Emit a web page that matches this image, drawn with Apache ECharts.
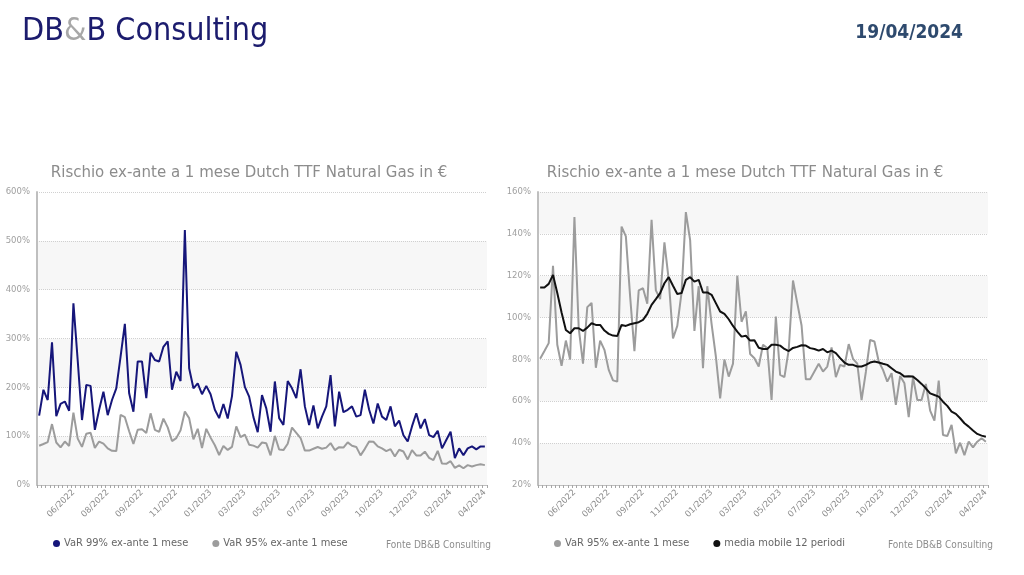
<!DOCTYPE html>
<html>
<head>
<meta charset="utf-8">
<script src="https://cdn.jsdelivr.net/npm/echarts@6/dist/echarts.min.js"></script>
<style>
html,body{margin:0;padding:0;background:#fff;}
#chart{width:1024px;height:575px;}
</style>
</head>
<body>
<div id="chart"></div>
<script>
// Weekly observation dates (categories)
const dates = [
"15/04/2022","22/04/2022","29/04/2022","06/05/2022","13/05/2022","20/05/2022","27/05/2022","03/06/2022","10/06/2022","17/06/2022",
"24/06/2022","01/07/2022","08/07/2022","15/07/2022","22/07/2022","29/07/2022","05/08/2022","12/08/2022","19/08/2022","26/08/2022",
"02/09/2022","09/09/2022","16/09/2022","23/09/2022","30/09/2022","07/10/2022","14/10/2022","21/10/2022","28/10/2022","04/11/2022",
"11/11/2022","18/11/2022","25/11/2022","02/12/2022","09/12/2022","16/12/2022","23/12/2022","30/12/2022","06/01/2023","13/01/2023",
"20/01/2023","27/01/2023","03/02/2023","10/02/2023","17/02/2023","24/02/2023","03/03/2023","10/03/2023","17/03/2023","24/03/2023",
"31/03/2023","07/04/2023","14/04/2023","21/04/2023","28/04/2023","05/05/2023","12/05/2023","19/05/2023","26/05/2023","02/06/2023",
"09/06/2023","16/06/2023","23/06/2023","30/06/2023","07/07/2023","14/07/2023","21/07/2023","28/07/2023","04/08/2023","11/08/2023",
"18/08/2023","25/08/2023","01/09/2023","08/09/2023","15/09/2023","22/09/2023","29/09/2023","06/10/2023","13/10/2023","20/10/2023",
"27/10/2023","03/11/2023","10/11/2023","17/11/2023","24/11/2023","01/12/2023","08/12/2023","15/12/2023","22/12/2023","29/12/2023",
"05/01/2024","12/01/2024","19/01/2024","26/01/2024","02/02/2024","09/02/2024","16/02/2024","23/02/2024","01/03/2024","08/03/2024",
"15/03/2024","22/03/2024","29/03/2024","05/04/2024","12/04/2024"
];

// VaR 99% ex-ante 1 mese (%)
const var99 = [
142,195,174,292,141,166,171,152,372,255,
133,205,203,113,154,191,143,174,198,263,
330,188,150,253,253,178,271,256,253,283,
294,195,232,213,522,239,198,208,186,203,
186,154,137,166,136,182,273,246,201,181,
139,108,184,157,109,212,137,123,213,198,
178,237,161,123,163,116,140,161,225,120,
191,149,154,161,140,143,195,154,126,167,
140,133,161,120,132,102,89,120,147,116,
135,102,98,111,75,92,109,55,75,61,
75,79,73,79,79
];

// VaR 95% ex-ante 1 mese (%)
const var95 = [
80.3,84,87.8,124.7,87,77,89,80,148,95,
78,105,107,76,89,84.6,75,70,69.4,143.5,
138.8,110,84,113,114,106.6,146.7,113,108.8,135.9,
118,90,96,112,150.4,137,93.6,115,75.8,115,
97,81.4,61.4,80,71.8,78,120,98,103,82.6,
80.6,76.6,87,85.4,60.6,100.5,72.6,71.5,84.6,117.7,
106.9,96.2,70.5,70.5,74.2,77.9,74.2,76.6,85.7,71.5,
77.4,76.6,87.3,80.3,78,60.6,74,89.3,88.6,79,
75,69.4,73.4,58.3,72.1,68.6,52.4,71.5,60.6,60.6,
68.3,55.5,50.8,69.9,43.9,43.4,48.7,35.1,40.2,34.3,
40.7,38,40.7,42.3,40.7
];

// media mobile 12 periodi (%)
const ma12 = [
114.4,114.4,116.1,120.4,111.7,102.4,94.1,92.5,94.9,94.9,
93.6,95.2,97.3,96.5,96.5,93.8,92.2,91.4,91.2,96.5,
96,96.8,97.3,97.8,98.9,101.8,106.1,108.8,111.7,116.4,
119.3,115.2,111.3,111.7,118,119.3,117.2,118,112,112,
110.9,106.9,102.9,101.8,99.2,96,93.3,90.9,91.3,89,
89.2,85.6,85,85,87,87,86.6,85,84,85.5,
86,86.8,86.6,85.4,85,84.2,85,83.4,84.2,83,
80.6,78.5,77.4,77.4,76.6,76.6,77.4,78.5,79,78.5,
77.9,77.4,75.8,74.2,73.4,71.8,72,71.8,70.2,68.3,
66.2,63.8,63,62.2,59.8,57.8,55.1,54,51.9,49.5,
47.9,46,44.4,43.6,43.1
];

const leftTicks = {min:0, max:600, interval:100};
const rightTicks = {min:20, max:160, interval:20};

const names = {
  v99: "VaR 99% ex-ante 1 mese",
  v95: "VaR 95% ex-ante 1 mese",
  ma: "media mobile 12 periodi"
};
const chartTitle = "Rischio ex-ante a 1 mese Dutch TTF Natural Gas in €";

const FONT = "'DejaVu Sans', Verdana, sans-serif";
const COND = "'DejaVu Sans Condensed', 'DejaVu Sans', sans-serif";
const NAVY = "#16167a";
const GREY = "#9c9c9c";
const BLACK = "#111111";

function xAxisCfg(gridIndex){
  return {
    type:'category', gridIndex, data:dates, boundaryGap:true,
    axisLine:{show:true, lineStyle:{color:'#bfbfbf', width:1}},
    axisTick:{show:true, interval:0, length:3, lineStyle:{color:'#a6a6a6'}},
    axisLabel:{
      interval:(i)=> i>0 && i%8===0,
      rotate:45, fontSize:8.5, color:'#8c8c8c', fontFamily:FONT, margin:6,
      formatter:(v)=> v.slice(3)
    },
    splitLine:{show:false}
  };
}
function yAxisCfg(gridIndex, t){
  return {
    type:'value', gridIndex, min:t.min, max:t.max, interval:t.interval,
    axisLine:{show:true, lineStyle:{color:'#bfbfbf', width:2}},
    axisTick:{show:false},
    axisLabel:{formatter:'{value}%', fontSize:8.5, color:'#a0a0a0', fontFamily:FONT, margin:7},
    splitLine:{show:true, lineStyle:{color:'#d0d0d0', width:1, type:'dotted'}},
    splitArea:{show:true, areaStyle:{color:['#f7f7f7','#ffffff']}}
  };
}

const chart = echarts.init(document.getElementById('chart'), null, {renderer:'canvas'});
chart.setOption({
  animation:false,
  backgroundColor:'#ffffff',
  grid:[
    {left:37, right:537, top:192, bottom:90},
    {left:538, right:36, top:192, bottom:90}
  ],
  xAxis:[xAxisCfg(0), xAxisCfg(1)],
  yAxis:[yAxisCfg(0,leftTicks), yAxisCfg(1,rightTicks)],
  legend:[
    {left:48, top:533, icon:'circle', itemWidth:7, itemHeight:7, itemGap:24,
     textStyle:{fontSize:11, color:'#666', fontFamily:COND, padding:[0,0,0,-1]}, selectedMode:false,
     data:[{name:names.v99, itemStyle:{color:NAVY}}, {name:names.v95, itemStyle:{color:GREY}}]},
    {left:549, top:533, icon:'circle', itemWidth:7, itemHeight:7, itemGap:24,
     textStyle:{fontSize:11, color:'#666', fontFamily:COND, padding:[0,0,0,-1]}, selectedMode:false,
     data:[{name:names.v95, itemStyle:{color:GREY}}, {name:names.ma, itemStyle:{color:BLACK}}]}
  ],
  series:[
    {name:names.v95, type:'line', xAxisIndex:0, yAxisIndex:0, data:var95, symbol:'none',
     lineStyle:{color:GREY, width:2}, itemStyle:{color:GREY}},
    {name:names.v99, type:'line', xAxisIndex:0, yAxisIndex:0, data:var99, symbol:'none',
     lineStyle:{color:NAVY, width:2}, itemStyle:{color:NAVY}},
    {name:names.v95, type:'line', xAxisIndex:1, yAxisIndex:1, data:var95, symbol:'none',
     lineStyle:{color:GREY, width:2}, itemStyle:{color:GREY}},
    {name:names.ma, type:'line', xAxisIndex:1, yAxisIndex:1, data:ma12, symbol:'none',
     lineStyle:{color:BLACK, width:2}, itemStyle:{color:BLACK}}
  ],
  graphic:[
    {type:'text', x:22, y:32, style:{
      text:'{a|DB}{b|&}{a|B Consulting}', verticalAlign:'middle', align:'left',
      rich:{
        a:{fontSize:32, fontFamily:COND, fill:'#1c1c6e'},
        b:{fontSize:32, fontFamily:COND, fill:'#a8a8a8'}
      }}},
    {type:'text', x:963, y:33, style:{text:'19/04/2024', align:'right', verticalAlign:'middle',
      font:"bold 19px 'DejaVu Sans Condensed', 'DejaVu Sans', sans-serif", fill:'#2e4a6e'}},
    {type:'text', x:249, y:173, style:{text:chartTitle, align:'center', verticalAlign:'middle',
      font:"15px 'DejaVu Sans', sans-serif", fill:'#8c8c8c'}},
    {type:'text', x:745, y:173, style:{text:chartTitle, align:'center', verticalAlign:'middle',
      font:"15px 'DejaVu Sans', sans-serif", fill:'#8c8c8c'}},
    {type:'text', x:386, y:545, style:{text:'Fonte DB&B Consulting', align:'left', verticalAlign:'middle',
      font:"10px 'DejaVu Sans Condensed', 'DejaVu Sans', sans-serif", fill:'#8c8c8c'}},
    {type:'text', x:888, y:545, style:{text:'Fonte DB&B Consulting', align:'left', verticalAlign:'middle',
      font:"10px 'DejaVu Sans Condensed', 'DejaVu Sans', sans-serif", fill:'#8c8c8c'}}
  ]
});
</script>
</body>
</html>
